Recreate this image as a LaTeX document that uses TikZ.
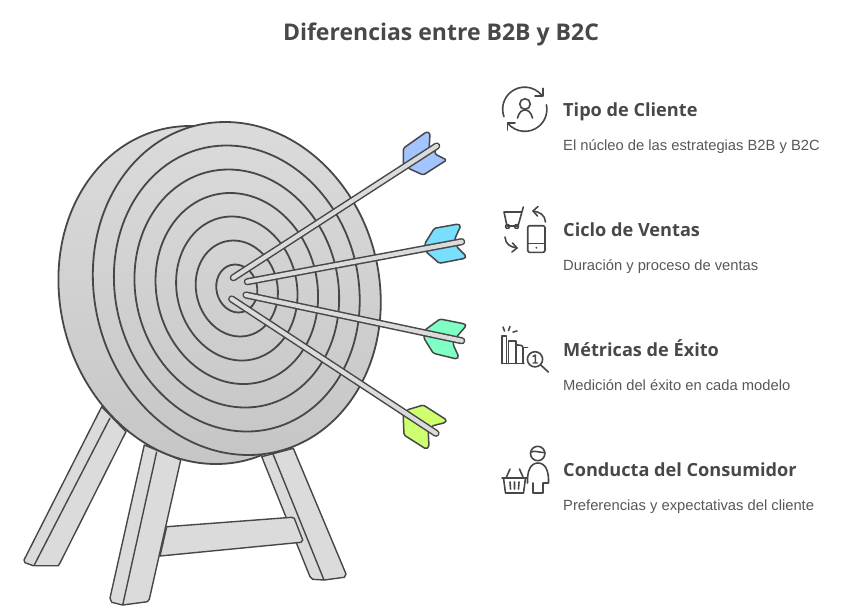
\documentclass[tikz,border=0pt]{standalone}
\usepackage{fontspec}
\setmainfont{Liberation Sans}
\newfontfamily\headfont{Open Sans}
\definecolor{ink}{HTML}{474747}
\definecolor{txt}{HTML}{484848}
\definecolor{woodc}{HTML}{DBDBDB}
\definecolor{vblue}{HTML}{A2C4FF}
\definecolor{vcyan}{HTML}{78DFFF}
\definecolor{vgreen}{HTML}{7FFFC4}
\definecolor{vlime}{HTML}{CEFF6F}
\definecolor{DCtop}{HTML}{DBDBDB}
\definecolor{DCbot}{HTML}{C6C6C6}
\tikzset{
  wood/.style={draw=ink,line width=1.4pt,fill=woodc,line join=round},
  woodline/.style={draw=ink,line width=1.4pt},
  face/.style={draw=ink,line width=1.8pt,top color=DCtop,bottom color=DCbot},
  ringline/.style={draw=ink,line width=1.8pt},
  vane/.style={draw=ink,line width=1.5pt,rounded corners=1.5pt,line join=round},
  shaftout/.style={draw=ink,line width=7.2pt,line cap=round},
  shaftin/.style={draw=woodc,line width=4.2pt,line cap=round},
  ico/.style={draw=ink,line width=1.6pt,line cap=round,line join=round,fill=none},
  ttl/.style={anchor=base,inner sep=0pt,text=txt,font=\headfont\bfseries\fontsize{23}{28}\selectfont},
  head/.style={anchor=base west,inner sep=0pt,text=txt,font=\headfont\bfseries\fontsize{18.15}{22}\selectfont},
  desc/.style={anchor=base west,inner sep=0pt,text=txt!92,font=\fontsize{14.75}{17}\selectfont},
}
\begin{document}
\begin{tikzpicture}[x=1pt,y=-1pt]
\useasboundingbox (0,0) rectangle (850,614);
% legs
\draw[wood] (101.7,406.7) -- (24,560) -- (25,562.7) -- (33.3,565.7) -- (58.3,565.7) -- (60,563) -- (126,431.7) -- cycle;
\draw[woodline] (110,418) -- (34,565.5);
\draw[wood] (261.7,456.7) -- (310,576.7) -- (312.7,579.3) -- (324,580) -- (344.3,577.3) -- (346,574) -- (293.3,448.3) -- cycle;
\draw[woodline] (272.7,453.3) -- (324,580);
\draw[wood] (166.7,526.7) -- (291.7,517.3) -- (294.3,518.3) -- (302.7,540) -- (301,542.3) -- (160,556) -- cycle;
\draw[wood] (144.3,445) -- (110,598) -- (111.7,602.3) -- (122.7,605) -- (147.3,601.7) -- (149.3,599.3) -- (180.7,460) -- cycle;
\draw[woodline] (156.7,451.7) -- (122.7,605);
% target
\begin{scope}[shift={(203,295)},xslant=-0.077]
  \path[face] (0,0) ellipse [x radius=144pt,y radius=169pt];
\end{scope}
\begin{scope}[shift={(236.8,288.5)},xslant=-0.07]
  \path[face] (0,0) ellipse [x radius=143.5pt,y radius=166.5pt];
  \draw[ringline] (0,0) ellipse [x radius=122.5pt,y radius=143pt];
  \draw[ringline] (0,0) ellipse [x radius=102pt,y radius=119pt];
  \draw[ringline] (0,0) ellipse [x radius=81pt,y radius=95.5pt];
  \draw[ringline] (0,0) ellipse [x radius=60.5pt,y radius=72pt];
  \draw[ringline] (0,0) ellipse [x radius=41pt,y radius=48pt];
  \draw[ringline] (0,0) ellipse [x radius=20.5pt,y radius=24pt];
\end{scope}
% arrows
\newcommand{\shaft}[2]{\draw[shaftout] #1 -- #2; \draw[shaftin] #1 -- #2;}
\draw[vane,fill=vblue] (403.3,167) -- (403.3,148.3) -- (426.7,131.7) -- (430,133.3) -- (429,151) -- cycle;
\draw[vane,fill=vblue] (408.3,164.4) -- (408.3,168.3) -- (423.3,175) -- (446.7,160) -- (435,154) -- (435,147.1) -- cycle;
\shaft{(233.3,277.7)}{(436.7,146)}
\draw[vane,fill=vcyan] (425,248.6) -- (425,243.3) -- (434.3,228.3) -- (458.3,224) -- (460.7,226) -- (455,238.3) -- (455,243) -- cycle;
\draw[vane,fill=vcyan] (426,248.4) -- (426,251.7) -- (439.3,263.3) -- (465,258.3) -- (466,256) -- (456.7,246.7) -- (456.7,242.6) -- cycle;
\shaft{(247.3,281.7)}{(461.7,241.7)}
\draw[vane,fill=vgreen] (425,332.9) -- (425,330) -- (440,319) -- (465,324) -- (466,326) -- (456.7,336.7) -- (456.7,339.6) -- cycle;
\draw[vane,fill=vgreen] (424,332.7) -- (424,338.3) -- (433.3,353.3) -- (456.7,359) -- (458.7,356.7) -- (453.3,345) -- (453.3,338.9) -- cycle;
\shaft{(246,295)}{(461.7,340.7)}
\draw[vane,fill=vlime] (406.7,414) -- (406.7,410) -- (423.3,405) -- (446.7,420) -- (445,422.7) -- (431.7,426) -- (431.7,430.4) -- cycle;
\draw[vane,fill=vlime] (403.3,411.7) -- (403.3,418.3) -- (404,435) -- (426,449) -- (429,446.7) -- (428.3,432.7) -- (428.3,428.3) -- cycle;
\shaft{(231.7,299)}{(436,433.3)}
% texts
\node[ttl] (title) at (441,40) {Diferencias entre B2B y B2C};
\node[head] (h1) at (563,116.5) {Tipo de Cliente};
\node[desc] (d1) at (563,150) {El núcleo de las estrategias B2B y B2C};
\node[head] (h2) at (563,236.5) {Ciclo de Ventas};
\node[desc] (d2) at (563,270) {Duración y proceso de ventas};
\node[head] (h3) at (563,356.5) {Métricas de Éxito};
\node[desc] (d3) at (563,390) {Medición del éxito en cada modelo};
\node[head] (h4) at (563,476.5) {Conducta del Consumidor};
\node[desc] (d4) at (563,510) {Preferencias y expectativas del cliente};
% icon 1
\draw[ico] (541.5,95) arc[start angle=40,end angle=200,radius=22pt];
\draw[ico] (508,123.5) arc[start angle=220,end angle=372,radius=22pt];
\draw[ico] (542.7,88.3) -- (542.7,95.7) -- (535,95.7);
\draw[ico] (507.3,130) -- (507.3,122.7) -- (515,122.7);
\draw[ico] (525,104) circle[radius=5.3pt];
\draw[ico] (517.5,118) .. controls (519,112) and (522,110) .. (525,110) .. controls (528,110) and (531,112) .. (532.5,118);
% icon 2
\draw[ico] (523.3,207) -- (518,226) -- (507,226) -- (504,212) -- (521.5,212);
\draw[ico] (507.5,226.5) circle[radius=2pt] (516.5,226.5) circle[radius=2pt];
\draw[ico] (545.5,222) .. controls (545,215) and (540,212) .. (533,211);
\draw[ico] (538,206.5) -- (533,211) -- (537.5,216);
\draw[ico] (505,237) .. controls (505.5,244) and (510,247) .. (517,248);
\draw[ico] (512.5,243) -- (517,248) -- (512,252);
\draw[ico,rounded corners=2pt] (527.7,225.7) rectangle (545,252.3);
\draw[ico] (527.7,243.3) -- (545,243.3);
\fill[ink] (536.3,247.8) circle[radius=1pt];
% icon 3
\draw[ico] (502,363.5) -- (502,336) -- (506.5,336) -- (506.5,363.5);
\draw[ico] (502,363.5) -- (524,363.5);
\draw[ico] (508.5,363.5) -- (508.5,341) -- (516,341) -- (516,363.5);
\draw[ico] (516,345) .. controls (520,345) and (523,345) .. (523,348) -- (523,363.5);
\draw[ico] (523,347.5) -- (527.5,347.5);
\draw[ico] (535,359.3) circle[radius=7.6pt];
\draw[ico] (540.5,364.8) -- (548.3,372);
\draw[ico,line width=1.4pt] (533,356.5) -- (535.3,355) -- (535.3,363) (533,363) -- (537.5,363);
\draw[ico] (503,327) -- (504.5,331);
\draw[ico] (510,326.5) -- (508.5,330.5);
\draw[ico] (513,332) -- (517,331);
% icon 4
\draw[ico] (537.7,453.5) circle[radius=7.2pt];
\draw[ico] (531,452) .. controls (535,450) and (540,453) .. (545,452.5);
\draw[ico] (527.5,483) .. controls (527,472) and (530,463) .. (538,463) .. controls (546,463) and (549,472) .. (548.5,483) -- (543,483) -- (543,493) -- (533,493) -- (533,483);
\draw[ico] (502,478) -- (527,478);
\draw[ico] (503.5,478) -- (505.5,493) -- (523.5,493) -- (525.5,478);
\draw[ico] (506.5,477) -- (510,469);
\draw[ico] (523,477) -- (519.5,469);
\draw[ico] (510,482) -- (510.5,489) (514.5,482) -- (514.5,489) (519,482) -- (518.5,489);
\end{tikzpicture}
\end{document}
